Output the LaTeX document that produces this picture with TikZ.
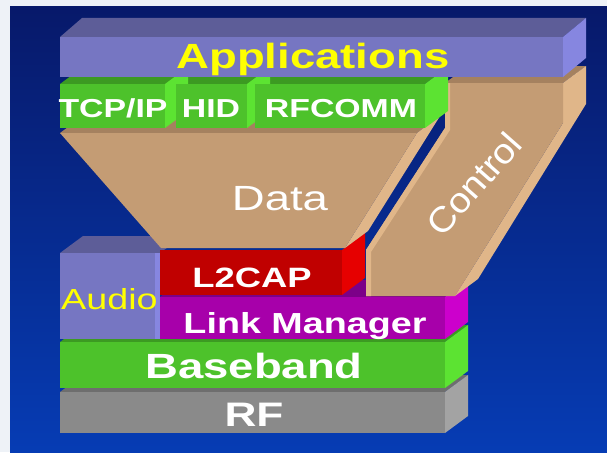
\documentclass[tikz,border=0pt]{standalone}
\usepackage{fontspec}
\setmainfont{Liberation Sans}
\usetikzlibrary{positioning}

\definecolor{pagewhite}{HTML}{EEF2F7}
\definecolor{bgtop}{HTML}{07196A}
\definecolor{bgbottom}{HTML}{063CB4}
\definecolor{lavfront}{HTML}{7676C2}
\definecolor{lavtop}{HTML}{5D5D98}
\definecolor{lavside}{HTML}{8686E0}
\definecolor{grnfront}{HTML}{4DC22B}
\definecolor{grntop}{HTML}{3C9A22}
\definecolor{grnside}{HTML}{5CE332}
\definecolor{brnfront}{HTML}{C49C74}
\definecolor{brntop}{HTML}{A5815F}
\definecolor{brnside}{HTML}{E0B689}
\definecolor{redfront}{HTML}{C00000}
\definecolor{redside}{HTML}{E60000}
\definecolor{magfront}{HTML}{A700AA}
\definecolor{magtop}{HTML}{7C0088}
\definecolor{magside}{HTML}{CC00CC}
\definecolor{gryfront}{HTML}{8A8A8A}
\definecolor{grytop}{HTML}{6E6E6E}
\definecolor{gryside}{HTML}{A3A3A3}
\definecolor{labelyellow}{HTML}{FFFF00}

\newcommand{\wtext}[1]{\scalebox{1.3}[1]{#1}}

\tikzset{
  layer/.style={inner sep=0pt, anchor=base, text=white,
    font=\bfseries\fontsize{#1}{#1}\selectfont},
  layer/.default=35,
  thin label/.style={inner sep=0pt, text=white,
    font=\fontsize{35}{35}\selectfont}
}

\begin{document}
\begin{tikzpicture}[x=1pt, y=-1pt]
    \useasboundingbox (0,0) rectangle (607,452);

    % slide background
    \fill[pagewhite] (0,0) rectangle (607,452);
    \shade[top color=bgtop, bottom color=bgbottom] (10,7) rectangle (607,452);

    % RF
    \fill[grytop] (60,392) -- (83,375) -- (468,375) -- (445,392) -- cycle;
    \fill[gryside] (445,392) -- (468,375) -- (468,416) -- (445,433) -- cycle;
    \fill[gryfront] (60,392) rectangle (445,433);
    \node[layer=34] (rf) at (254,426) {\wtext{RF}};

    % Baseband
    \fill[grntop] (60,342) -- (83,325) -- (468,325) -- (445,342) -- cycle;
    \fill[grnside] (445,342) -- (468,325) -- (468,371) -- (445,388) -- cycle;
    \fill[grnfront] (60,342) rectangle (445,388);
    \node[layer=35] (baseband) at (254,378) {\wtext{Baseband}};

    % Link Manager
    \fill[magtop] (160,297) -- (183,280) -- (468,280) -- (445,297) -- cycle;
    \fill[magside] (445,297) -- (468,280) -- (468,322) -- (445,339) -- cycle;
    \fill[magfront] (160,297) rectangle (445,339);
    \node[layer=29] (lm) at (305,333) {\wtext{Link Manager}};

    % Audio
    \fill[lavtop] (60,253) -- (83,236) -- (183,236) -- (160,253) -- cycle;
    \fill[lavfront] (60,253) rectangle (160,339);
    \fill[lavside] (155,253) rectangle (160,339);
    \node[inner sep=0pt, anchor=base west, text=labelyellow,
      font=\fontsize{29}{29}\selectfont] (audio) at (61,309) {\wtext{Audio}};

    % L2CAP
    \fill[redside] (342,250) -- (365,233) -- (365,278) -- (342,295) -- cycle;
    \fill[redfront] (160,250) rectangle (342,295);
    \node[layer=28] (l2cap) at (252,287) {\wtext{L2CAP}};

    % Control
    \fill[brntop] (445,83) -- (468,66) -- (586,66) -- (563,83) -- cycle;
    \fill[brnside] (563,83) -- (586,66) -- (586,104) -- (478,279) -- (455,296) -- (563,123) -- cycle;
    \fill[brnfront] (445,83) -- (563,83) -- (563,123) -- (455,296) -- (366,296)
      -- (366,250) -- (445,128) -- cycle;
    \fill[brnside] (366,296) -- (366,250) -- (445,128) -- (445,83) -- (450,83)
      -- (450,130) -- (371,252) -- (371,296) -- cycle;
    \node[thin label, rotate=48.6] (control) at (474,184) {\scalebox{1.1}[1]{Control}};

    % Data
    \fill[brntop] (60,133) -- (83,116) -- (440,116) -- (417,133) -- cycle;
    \fill[brnside] (417,133) -- (440,116) -- (368,231) -- (345,248) -- cycle;
    \fill[brnfront] (60,133) -- (417,133) -- (345,248) -- (161,248) -- cycle;
    \node[thin label, anchor=base] (data) at (280,210) {\wtext{Data}};

    % protocols row
    \fill[grntop] (60,84) -- (83,67) -- (448,67) -- (425,84) -- cycle;
    \fill[grnside] (165,84) -- (188,67) -- (188,111) -- (165,128) -- cycle;
    \fill[grnfront] (60,84) rectangle (165,128);
    \fill[grnside] (247,84) -- (270,67) -- (270,111) -- (247,128) -- cycle;
    \fill[grnfront] (176,84) rectangle (247,128);
    \fill[grnside] (425,84) -- (448,67) -- (448,111) -- (425,128) -- cycle;
    \fill[grnfront] (255,84) rectangle (425,128);
    \node[layer=26] (tcpip) at (113,117) {\wtext{TCP/IP}};
    \node[layer=26] (hid) at (211,117) {\wtext{HID}};
    \node[layer=26] (rfcomm) at (341,117) {\wtext{RFCOMM}};

    % Applications
    \fill[lavtop] (60,37) -- (82,18) -- (586,18) -- (563,37) -- cycle;
    \fill[lavside] (563,37) -- (586,18) -- (586,58) -- (563,77) -- cycle;
    \fill[lavfront] (60,37) rectangle (563,77);
    \node[layer=35, text=labelyellow] (apps) at (313,68) {\wtext{Applications}};
\end{tikzpicture}
\end{document}
